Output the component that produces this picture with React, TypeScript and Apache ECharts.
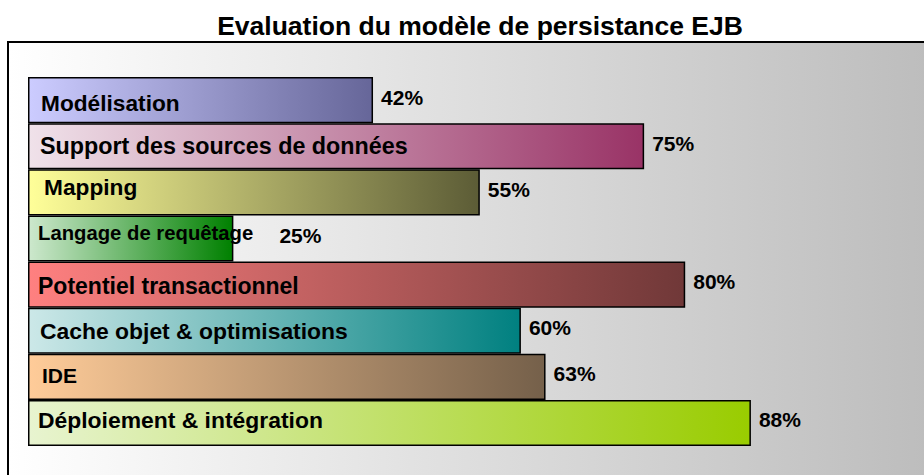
import React, { useEffect, useRef } from "react";
import * as echarts from "echarts";

const TITLE = "Evaluation du modèle de persistance EJB";
const categories = [
  "Modélisation",
  "Support des sources de données",
  "Mapping",
  "Langage de requêtage",
  "Potentiel transactionnel",
  "Cache objet & optimisations",
  "IDE",
  "Déploiement & intégration",
];
const values = [42, 75, 55, 25, 80, 60, 63, 88];
const colorsLeft = ["#ccccff", "#f0e2ea", "#ffff99", "#cde8cd", "#ff8080", "#cce8e8", "#ffcc99", "#e8f4d0"];
const colorsRight = ["#666699", "#993366", "#5c5c36", "#008000", "#703838", "#008080", "#75604a", "#99cc00"];
const nameFontSizes = [22.7, 23.3, 22.7, 20.3, 23, 22.9, 21, 22.9];
const nameOffsetX = [8, 7, 11, 5, 5, 7, 9, 5];
const nameOffsetY = [3, 0, -5, -5, 1, 0, -1.5, -2.5];
const valueDistance = [8, 8, 8, 46, 8, 8, 8, 8];

const FONT = "'Liberation Sans', Arial, sans-serif";

export default function App() {
  const ref = useRef<HTMLDivElement>(null);
  useEffect(() => {
    document.body.style.margin = "0";
    if (!ref.current) return;
    const chart = echarts.init(ref.current, null, { renderer: "svg" });
    const nameData = values.map((v, i) => ({
      value: v,
      name: categories[i],
      itemStyle: {
        color: new echarts.graphic.LinearGradient(0, 0, 1, 0, [
          { offset: 0, color: colorsLeft[i] },
          { offset: 1, color: colorsRight[i] },
        ]),
        borderColor: "#000",
        borderWidth: 1.5,
      },
      label: {
        fontSize: nameFontSizes[i],
        offset: [nameOffsetX[i], nameOffsetY[i]],
      },
    }));
    const valueData = values.map((v, i) => ({
      value: v,
      label: { distance: valueDistance[i] },
    }));
    chart.setOption({
      animation: false,
      title: {
        text: TITLE,
        left: 475,
        top: 7,
        textAlign: "center",
        textStyle: { fontFamily: FONT, fontWeight: "bold", fontSize: 26.5, color: "#000" },
      },
      graphic: [
        {
          type: "rect",
          z: -10,
          shape: { x: 8, y: 42, width: 960, height: 480 },
          style: {
            fill: new echarts.graphic.LinearGradient(0, 0, 1, 0, [
              { offset: 0, color: "#ffffff" },
              { offset: 1, color: "#bababa" },
            ]),
            stroke: "#000",
            lineWidth: 2,
          },
        },
      ],
      grid: { left: 28, top: 77, width: 821.5, height: 369, containLabel: false },
      xAxis: { type: "value", min: 0, max: 100, show: false },
      yAxis: { type: "category", data: categories, inverse: true, show: false },
      series: [
        {
          type: "bar",
          data: nameData,
          barCategoryGap: 0,
          barWidth: "100%",
          z: 2,
          label: {
            show: true,
            position: "insideLeft",
            distance: 5,
            formatter: "{b}",
            color: "#000",
            fontFamily: FONT,
            fontWeight: "bold",
          },
        },
        {
          type: "bar",
          data: valueData,
          barGap: "-100%",
          barWidth: "100%",
          silent: true,
          z: 3,
          itemStyle: { color: "rgba(0,0,0,0)" },
          label: {
            show: true,
            position: "right",
            formatter: "{c}%",
            offset: [0, -3],
            color: "#000",
            fontFamily: FONT,
            fontWeight: "bold",
            fontSize: 21,
          },
        },
      ],
    });
    return () => chart.dispose();
  }, []);
  return <div ref={ref} style={{ width: 924, height: 475 }} />;
}
